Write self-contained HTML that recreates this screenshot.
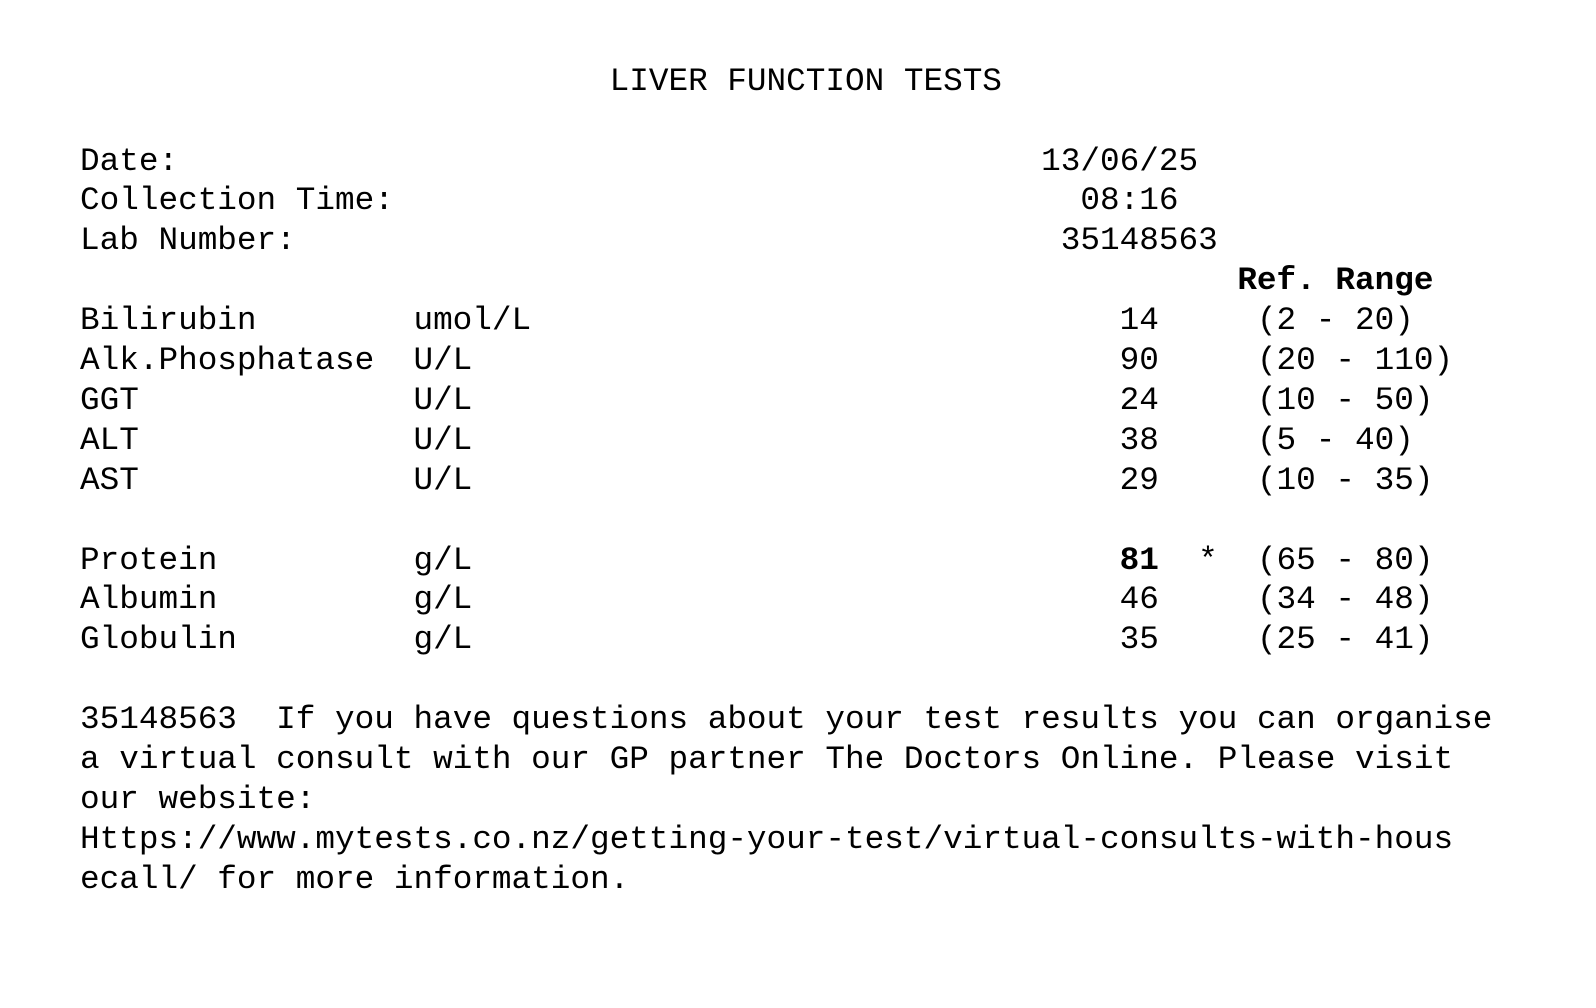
<!DOCTYPE html>
<html><head><meta charset="utf-8"><style>
html,body{margin:0;padding:0;background:#fff;}
body{width:1596px;height:1008px;position:relative;overflow:hidden;font-family:"Liberation Mono",monospace;font-size:32.7px;color:#000;}
.l{position:absolute;left:80px;height:39.3px;line-height:39.3px;white-space:pre;width:1510px;top:calc(61.7px + var(--i) * 39.9px);}
.l span{position:absolute;top:0;}
b{font-weight:bold;}
</style></head><body>
<div class="l" style="--i:0"><span style="left:27ch">LIVER FUNCTION TESTS</span></div>

<div class="l" style="--i:2"><span style="left:0">Date:</span><span style="left:49ch">13/06/25</span></div>
<div class="l" style="--i:3"><span style="left:0">Collection Time:</span><span style="left:51ch">08:16</span></div>
<div class="l" style="--i:4"><span style="left:0">Lab Number:</span><span style="left:50ch">35148563</span></div>
<div class="l" style="--i:5"><span style="left:59ch"><b>Ref. Range</b></span></div>

<div class="l" style="--i:6"><span style="left:0">Bilirubin</span><span style="left:17ch">umol/L</span><span style="left:53ch">14</span><span style="left:60ch">(2 - 20)</span></div>
<div class="l" style="--i:7"><span style="left:0">Alk.Phosphatase</span><span style="left:17ch">U/L</span><span style="left:53ch">90</span><span style="left:60ch">(20 - 110)</span></div>
<div class="l" style="--i:8"><span style="left:0">GGT</span><span style="left:17ch">U/L</span><span style="left:53ch">24</span><span style="left:60ch">(10 - 50)</span></div>
<div class="l" style="--i:9"><span style="left:0">ALT</span><span style="left:17ch">U/L</span><span style="left:53ch">38</span><span style="left:60ch">(5 - 40)</span></div>
<div class="l" style="--i:10"><span style="left:0">AST</span><span style="left:17ch">U/L</span><span style="left:53ch">29</span><span style="left:60ch">(10 - 35)</span></div>

<div class="l" style="--i:12"><span style="left:0">Protein</span><span style="left:17ch">g/L</span><span style="left:53ch"><b>81</b></span><span style="left:57ch">*</span><span style="left:60ch">(65 - 80)</span></div>
<div class="l" style="--i:13"><span style="left:0">Albumin</span><span style="left:17ch">g/L</span><span style="left:53ch">46</span><span style="left:60ch">(34 - 48)</span></div>
<div class="l" style="--i:14"><span style="left:0">Globulin</span><span style="left:17ch">g/L</span><span style="left:53ch">35</span><span style="left:60ch">(25 - 41)</span></div>

<div class="l" style="--i:16"><span style="left:0">35148563  If you have questions about your test results you can organise</span></div>
<div class="l" style="--i:17"><span style="left:0">a virtual consult with our GP partner The Doctors Online. Please visit</span></div>
<div class="l" style="--i:18"><span style="left:0">our website:</span></div>
<div class="l" style="--i:19"><span style="left:0">Https://www.mytests.co.nz/getting-your-test/virtual-consults-with-hous</span></div>
<div class="l" style="--i:20"><span style="left:0">ecall/ for more information.</span></div>
</body></html>
